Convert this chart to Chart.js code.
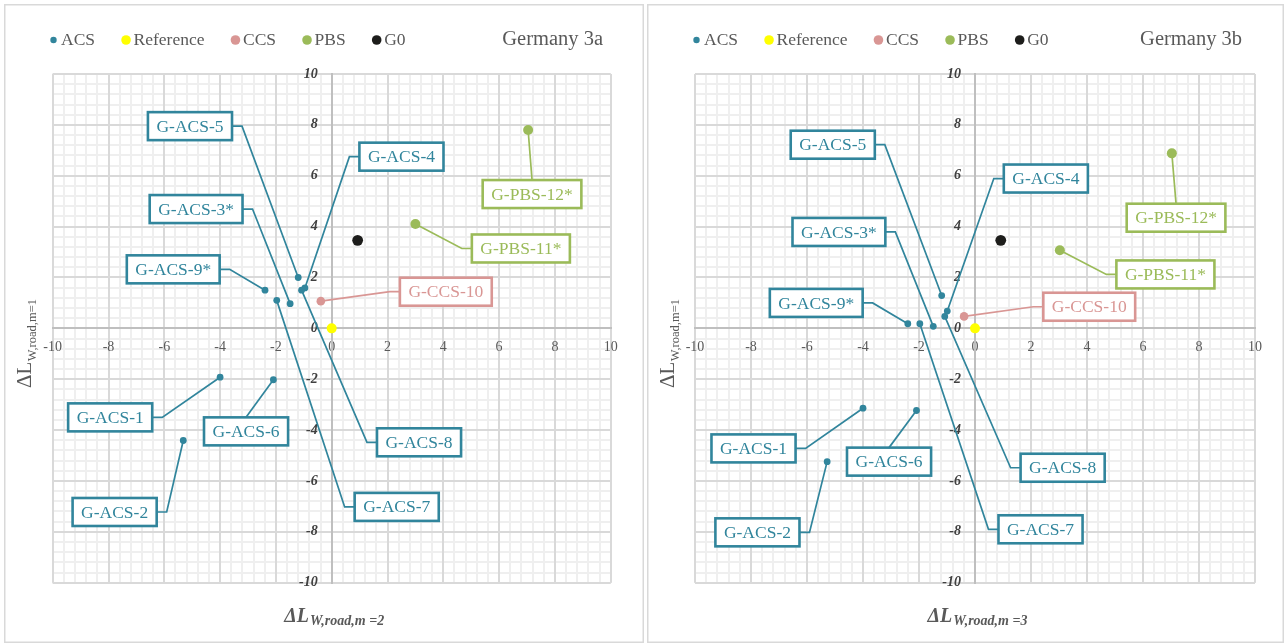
<!DOCTYPE html>
<html>
<head>
<meta charset="utf-8">
<title>Germany 3a / 3b</title>
<script src="https://cdn.jsdelivr.net/npm/chart.js@4.4.1/dist/chart.umd.min.js"></script>
<style>
  html, body { margin: 0; padding: 0; background: #fff; }
  body { width: 1285px; height: 643px; position: relative; overflow: hidden; }
  canvas { position: absolute; }
  #c3a { left: 4px; top: 4px; }
  #c3b { left: 647px; top: 4px; }
</style>
</head>
<body>
<canvas id="c3a" width="640" height="639"></canvas>
<canvas id="c3b" width="637" height="639"></canvas>
<script>
// ---- data ----
const seriesNames = ['ACS', 'Reference', 'CCS', 'PBS', 'G0'];
const seriesColors = ['#31859C', '#FFFF00', '#D99694', '#9BBB59', '#1D1D1B'];
const axisTicks = [-10, -8, -6, -4, -2, 0, 2, 4, 6, 8, 10];

const acsNames = ['G-ACS-1', 'G-ACS-2', 'G-ACS-3*', 'G-ACS-4', 'G-ACS-5', 'G-ACS-6', 'G-ACS-7', 'G-ACS-8', 'G-ACS-9*'];
const acsX3a = [-4.0, -5.32, -1.49, -0.96, -1.2, -2.09, -1.97, -1.08, -2.39];
const acsY3a = [-1.92, -4.41, 0.97, 1.59, 2.0, -2.02, 1.1, 1.5, 1.5];
const acsX3b = [-4.0, -5.28, -1.49, -0.99, -1.19, -2.09, -1.97, -1.08, -2.4];
const acsY3b = [-3.14, -5.24, 0.08, 0.68, 1.29, -3.23, 0.18, 0.47, 0.18];

const refX = [0];
const refY = [0];

const ccsNames = ['G-CCS-10'];
const ccsX3a = [-0.39];
const ccsY3a = [1.07];
const ccsX3b = [-0.39];
const ccsY3b = [0.47];

const pbsNames = ['G-PBS-11*', 'G-PBS-12*'];
const pbsX3a = [3.0, 7.04];
const pbsY3a = [4.1, 7.8];
const pbsX3b = [3.03, 7.03];
const pbsY3b = [3.07, 6.88];

const g0X3a = [0.93];
const g0Y3a = [3.46];
const g0X3b = [0.92];
const g0Y3b = [3.46];

// ---- callout box centres, in axis units ----
const callout3a = {
  'G-ACS-1': [-7.94, -3.5], 'G-ACS-2': [-7.78, -7.22], 'G-ACS-3*': [-4.86, 4.69],
  'G-ACS-4': [2.5, 6.75], 'G-ACS-5': [-5.08, 7.95], 'G-ACS-6': [-3.07, -4.05],
  'G-ACS-7': [2.33, -7.02], 'G-ACS-8': [3.13, -4.48], 'G-ACS-9*': [-5.68, 2.32],
  'G-CCS-10': [4.09, 1.44], 'G-PBS-11*': [6.78, 3.14], 'G-PBS-12*': [7.18, 5.28]
};
const callout3b = {
  'G-ACS-1': [-7.91, -4.72], 'G-ACS-2': [-7.77, -8.02], 'G-ACS-3*': [-4.86, 3.79],
  'G-ACS-4': [2.53, 5.89], 'G-ACS-5': [-5.08, 7.22], 'G-ACS-6': [-3.07, -5.24],
  'G-ACS-7': [2.34, -7.9], 'G-ACS-8': [3.13, -5.48], 'G-ACS-9*': [-5.67, 1.0],
  'G-CCS-10': [4.08, 0.85], 'G-PBS-11*': [6.8, 2.12], 'G-PBS-12*': [7.18, 4.35]
};

const SERIF = '"Liberation Serif", "Times New Roman", serif';
const MINOR_STEP = 0.4;
const pointRadii = [3.4, 5, 4.3, 5, 5.4];
const legendRadii = [3.2, 4.8, 4.8, 4.8, 4.8];
// gap between the y axis line and its tick labels
const Y_LABEL_GAP = '    ';

function pts(xs, ys) { return xs.map((x, i) => ({ x: x, y: ys[i] })); }

function minorTicks(scale) {
  const t = [];
  for (let k = 0; k <= Math.round(20 / MINOR_STEP); k++) {
    t.push({ value: +(-10 + k * MINOR_STEP).toFixed(4) });
  }
  scale.ticks = t;
}
function majorTicks(scale) {
  scale.ticks = axisTicks.map(v => ({ value: v }));
}

// panel frame, legend, title, axis titles, callouts
const panelPlugin = {
  id: 'panel',
  beforeDraw(chart, args, o) {
    const ctx = chart.ctx;
    ctx.save();
    ctx.fillStyle = '#fff';
    ctx.fillRect(0, 0, chart.width, chart.height);
    ctx.strokeStyle = '#D9D9D9';
    ctx.lineWidth = 1.5;
    ctx.strokeRect(0.75, 0.75, chart.width - 1.5, chart.height - 1.5);
    ctx.restore();
  },
  beforeDatasetsDraw(chart, args, o) {
    const ctx = chart.ctx;
    const xs = chart.scales.x, ys = chart.scales.y;
    ctx.save();
    ctx.font = '17.5px ' + SERIF;
    ctx.textAlign = 'center';
    ctx.textBaseline = 'middle';
    chart.data.datasets.forEach((ds, di) => {
      if (!ds.callouts) return;
      const meta = chart.getDatasetMeta(di);
      ds.callouts.forEach((name, i) => {
        const el = meta.data[i];
        const pos = o.callouts[name];
        if (!el || !pos) return;
        const px = el.x, py = el.y;
        const bx = xs.getPixelForValue(pos[0]);
        const by = ys.getPixelForValue(pos[1]);
        const w = ctx.measureText(name).width + 17;
        const h = 28;
        const l = bx - w / 2, r = bx + w / 2, t = by - h / 2, b = by + h / 2;
        ctx.strokeStyle = ds.backgroundColor;
        ctx.lineWidth = 1.7;
        ctx.beginPath();
        ctx.moveTo(px, py);
        if (px >= l && px <= r) {
          ctx.lineTo(bx, py < t ? t : b);
        } else if (px > r) {
          ctx.lineTo(r + 10, by);
          ctx.lineTo(r, by);
        } else {
          ctx.lineTo(l - 10, by);
          ctx.lineTo(l, by);
        }
        ctx.stroke();
        ctx.fillStyle = '#fff';
        ctx.fillRect(l, t, w, h);
        ctx.lineWidth = 2.6;
        ctx.strokeRect(l, t, w, h);
        ctx.fillStyle = ds.backgroundColor;
        ctx.fillText(name, bx, by + 1);
      });
    });
    ctx.restore();
  },
  afterDraw(chart, args, o) {
    const ctx = chart.ctx;
    ctx.save();
    // legend
    ctx.font = '17.5px ' + SERIF;
    ctx.textBaseline = 'middle';
    ctx.textAlign = 'left';
    let mx = 49.5;
    chart.data.datasets.forEach((ds, i) => {
      ctx.fillStyle = ds.backgroundColor;
      ctx.beginPath();
      ctx.arc(mx, 36, legendRadii[i], 0, Math.PI * 2);
      ctx.fill();
      ctx.fillStyle = '#595959';
      ctx.fillText(ds.label, mx + 7.5, 36.5);
      mx += 7.5 + ctx.measureText(ds.label).width + 31;
    });
    // title
    ctx.font = '20.5px ' + SERIF;
    ctx.textAlign = 'right';
    ctx.fillText(o.title, o.titleRight, 36);

    // x axis title
    const x0 = chart.scales.x.getPixelForValue(0);
    ctx.textAlign = 'left';
    ctx.textBaseline = 'alphabetic';
    ctx.fillStyle = '#595959';
    ctx.font = 'italic bold 20px ' + SERIF;
    let tx = x0 - 47.5;
    ctx.fillText('\u0394L', tx, 618);
    tx += ctx.measureText('\u0394L').width + 1;
    ctx.font = 'italic bold 14px ' + SERIF;
    ctx.fillText(o.xSub, tx, 621);

    // y axis title
    ctx.rotate(-Math.PI / 2);
    ctx.font = '21px ' + SERIF;
    let ty = 384;
    ctx.fillText('\u0394L', -ty, 26.5);
    ty -= ctx.measureText('\u0394L').width + 0.5;
    ctx.font = '12.5px ' + SERIF;
    ctx.fillText(o.ySub, -ty, 31.5);
    ctx.restore();
  }
};

function makeChart(id, d, opts) {
  const datasets = [
    { label: seriesNames[0], data: pts(d.acsX, d.acsY), callouts: acsNames },
    { label: seriesNames[1], data: pts(refX, refY) },
    { label: seriesNames[2], data: pts(d.ccsX, d.ccsY), callouts: ccsNames },
    { label: seriesNames[3], data: pts(d.pbsX, d.pbsY), callouts: pbsNames },
    { label: seriesNames[4], data: pts(d.g0X, d.g0Y) }
  ].map((ds, i) => Object.assign(ds, {
    backgroundColor: seriesColors[i],
    borderWidth: 0,
    pointRadius: pointRadii[i],
    pointHoverRadius: pointRadii[i],
    xAxisID: 'x',
    yAxisID: 'y'
  }));

  const minorGrid = { color: '#EFEFEF', lineWidth: 2, drawTicks: false, z: -2 };
  const majorGrid = {
    color: c => (c.tick && c.tick.value === 0 ? '#BFBFBF' : '#D9D9D9'),
    lineWidth: 2, drawTicks: false, z: -1
  };

  return new Chart(document.getElementById(id), {
    type: 'scatter',
    data: { datasets: datasets },
    options: {
      responsive: false,
      animation: false,
      events: [],
      layout: { padding: opts.padding },
      plugins: {
        legend: { display: false },
        title: { display: false },
        tooltip: { enabled: false },
        panel: opts.panel
      },
      scales: {
        gx: {
          type: 'linear', axis: 'x', min: -10, max: 10, position: { y: 0 },
          afterBuildTicks: minorTicks, grid: minorGrid,
          border: { display: false }, ticks: { display: false }
        },
        gy: {
          type: 'linear', axis: 'y', min: -10, max: 10, position: { x: 0 },
          afterBuildTicks: minorTicks, grid: minorGrid,
          border: { display: false }, ticks: { display: false }
        },
        x: {
          type: 'linear', min: -10, max: 10, position: { y: 0 },
          afterBuildTicks: majorTicks, grid: majorGrid,
          border: { color: '#BFBFBF', width: 2 },
          ticks: {
            autoSkip: false, maxRotation: 0, padding: 11, color: '#595959',
            font: { family: SERIF, size: 14 },
            callback: v => String(v)
          }
        },
        y: {
          type: 'linear', min: -10, max: 10, position: { x: 0 },
          afterBuildTicks: majorTicks, grid: majorGrid,
          border: { color: '#BFBFBF', width: 2 },
          ticks: {
            autoSkip: false, padding: 12, color: '#404040',
            font: { family: SERIF, size: 14, weight: 'bold', style: 'italic' },
            callback: v => String(v) + Y_LABEL_GAP
          }
        }
      }
    },
    plugins: [panelPlugin]
  });
}

makeChart('c3a',
  { acsX: acsX3a, acsY: acsY3a, ccsX: ccsX3a, ccsY: ccsY3a, pbsX: pbsX3a, pbsY: pbsY3a, g0X: g0X3a, g0Y: g0Y3a },
  {
    padding: { left: 48.7, top: 70, right: 33.3, bottom: 60.3 },
    panel: { title: 'Germany 3a', titleRight: 599, xSub: 'W,road,m =2', ySub: 'W,road,m=1', callouts: callout3a }
  });

makeChart('c3b',
  { acsX: acsX3b, acsY: acsY3b, ccsX: ccsX3b, ccsY: ccsY3b, pbsX: pbsX3b, pbsY: pbsY3b, g0X: g0X3b, g0Y: g0Y3b },
  {
    padding: { left: 48, top: 70, right: 29, bottom: 60.3 },
    panel: { title: 'Germany 3b', titleRight: 595, xSub: 'W,road,m =3', ySub: 'W,road,m=1', callouts: callout3b }
  });
</script>
</body>
</html>
